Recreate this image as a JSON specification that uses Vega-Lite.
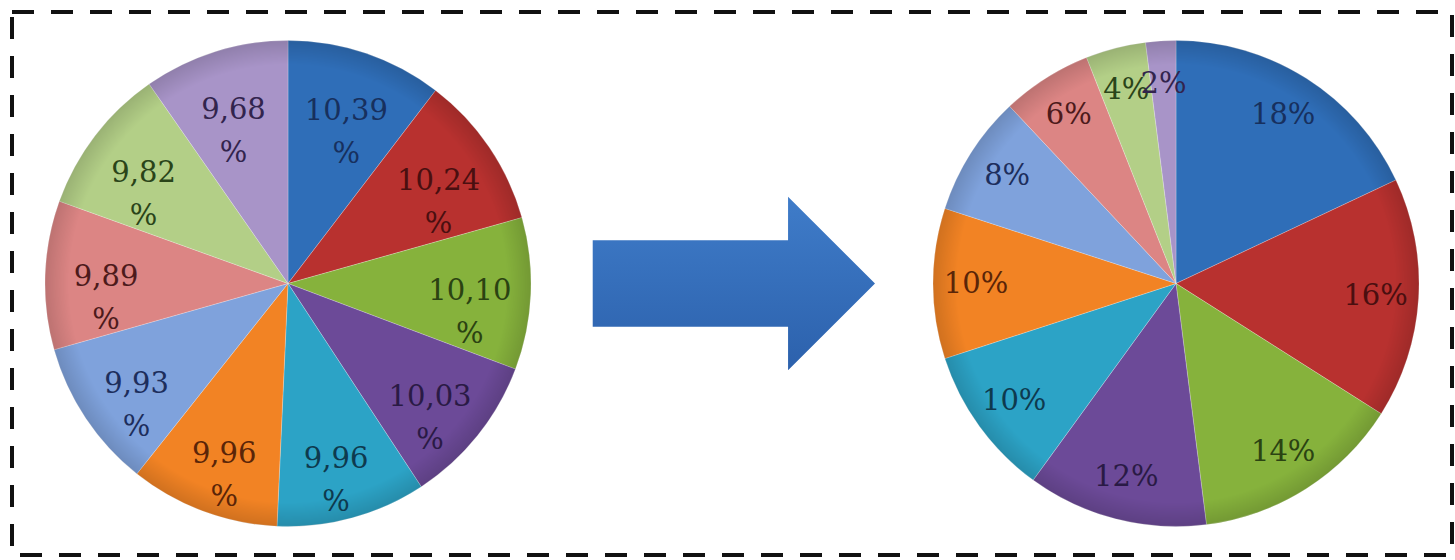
{
  "$schema": "https://vega.github.io/schema/vega-lite/v6.json",
  "width": 1440,
  "height": 543,
  "autosize": {"type": "none"},
  "padding": {"left": 12, "top": 12, "right": 3, "bottom": 5},
  "background": "white",
  "config": {
    "view": {"stroke": "#111111", "strokeWidth": 4, "strokeDash": [22, 17]}
  },
  "datasets": {
    "shares": [
      {"stage": "before", "slice": 1, "pct": 10.39, "label": "10,39\n%"},
      {"stage": "before", "slice": 2, "pct": 10.24, "label": "10,24\n%"},
      {"stage": "before", "slice": 3, "pct": 10.10, "label": "10,10\n%"},
      {"stage": "before", "slice": 4, "pct": 10.03, "label": "10,03\n%"},
      {"stage": "before", "slice": 5, "pct": 9.96, "label": "9,96\n%"},
      {"stage": "before", "slice": 6, "pct": 9.96, "label": "9,96\n%"},
      {"stage": "before", "slice": 7, "pct": 9.93, "label": "9,93\n%"},
      {"stage": "before", "slice": 8, "pct": 9.89, "label": "9,89\n%"},
      {"stage": "before", "slice": 9, "pct": 9.82, "label": "9,82\n%"},
      {"stage": "before", "slice": 10, "pct": 9.68, "label": "9,68\n%"},
      {"stage": "after", "slice": 1, "pct": 18, "label": "18%"},
      {"stage": "after", "slice": 2, "pct": 16, "label": "16%"},
      {"stage": "after", "slice": 3, "pct": 14, "label": "14%"},
      {"stage": "after", "slice": 4, "pct": 12, "label": "12%"},
      {"stage": "after", "slice": 5, "pct": 10, "label": "10%"},
      {"stage": "after", "slice": 6, "pct": 10, "label": "10%"},
      {"stage": "after", "slice": 7, "pct": 8, "label": "8%"},
      {"stage": "after", "slice": 8, "pct": 6, "label": "6%"},
      {"stage": "after", "slice": 9, "pct": 4, "label": "4%"},
      {"stage": "after", "slice": 10, "pct": 2, "label": "2%"}
    ]
  },
  "encoding": {
    "x": {
      "field": "stage",
      "type": "nominal",
      "axis": null,
      "scale": {"type": "point", "domain": ["before", "shift", "after"], "padding": 0.6216}
    }
  },
  "layer": [
    {
      "data": {"name": "shares"},
      "transform": [{"filter": "datum.stage === 'before'"}],
      "mark": {"type": "arc", "outerRadius": 243, "stroke": "#ffffff", "strokeWidth": 0.4, "strokeOpacity": 0.6},
      "encoding": {
        "theta": {"field": "pct", "type": "quantitative", "stack": true},
        "order": {"field": "slice", "type": "quantitative"},
        "fill": {
          "field": "slice",
          "type": "nominal",
          "legend": null,
          "scale": {
            "domain": [1, 2, 3, 4, 5, 6, 7, 8, 9, 10],
            "range": ["#2F6EB8", "#B8312F", "#86B23C", "#6C4A98", "#2CA3C6", "#F28324", "#7FA2DC", "#DC8584", "#B3CF87", "#A894C8"]
          }
        }
      }
    },
    {
      "data": {"name": "shares"},
      "transform": [{"filter": "datum.stage === 'after'"}],
      "mark": {"type": "arc", "outerRadius": 243, "stroke": "#ffffff", "strokeWidth": 0.4, "strokeOpacity": 0.6},
      "encoding": {
        "theta": {"field": "pct", "type": "quantitative", "stack": true},
        "order": {"field": "slice", "type": "quantitative"},
        "fill": {
          "field": "slice",
          "type": "nominal",
          "legend": null,
          "scale": {
            "domain": [1, 2, 3, 4, 5, 6, 7, 8, 9, 10],
            "range": ["#2F6EB8", "#B8312F", "#86B23C", "#6C4A98", "#2CA3C6", "#F28324", "#7FA2DC", "#DC8584", "#B3CF87", "#A894C8"]
          }
        }
      }
    },
    {
      "data": {"values": [{"stage": "before"}, {"stage": "after"}]},
      "mark": {
        "type": "point",
        "shape": "circle",
        "filled": true,
        "opacity": 1,
        "size": 236196,
        "strokeWidth": 0,
        "fill": {
          "gradient": "radial", "x1": 0.5, "y1": 0.5, "r1": 0, "x2": 0.5, "y2": 0.5, "r2": 0.5,
          "stops": [
            {"offset": 0, "color": "rgba(0,0,0,0)"},
            {"offset": 0.9, "color": "rgba(0,0,0,0)"},
            {"offset": 1, "color": "rgba(0,0,0,0.14)"}
          ]
        }
      }
    },
    {
      "data": {"values": [{"stage": "shift"}]},
      "mark": {
        "type": "point",
        "filled": true,
        "opacity": 1,
        "size": 81796,
        "shape": "M-0.974,-0.303 L0.392,-0.303 L0.392,-0.606 L1,0 L0.392,0.606 L0.392,0.303 L-0.974,0.303 Z",
        "fill": {
          "gradient": "linear", "x1": 0, "y1": 0, "x2": 0, "y2": 1,
          "stops": [{"offset": 0, "color": "#3F7CC9"}, {"offset": 1, "color": "#2C61AC"}]
        },
        "strokeWidth": 0
      }
    },
    {
      "data": {"name": "shares"},
      "transform": [{"filter": "datum.stage === 'before'"}],
      "mark": {"type": "text", "radius": 182, "font": "DejaVu Serif", "fontSize": 29, "lineBreak": "\n", "lineHeight": 43, "align": "center", "baseline": "middle"},
      "encoding": {
        "theta": {"field": "pct", "type": "quantitative", "stack": true},
        "order": {"field": "slice", "type": "quantitative"},
        "text": {"field": "label", "type": "nominal"},
        "color": {
          "field": "slice",
          "type": "nominal",
          "legend": null,
          "scale": {
            "domain": [1, 2, 3, 4, 5, 6, 7, 8, 9, 10],
            "range": ["#17305E", "#4A0F10", "#2B4312", "#2A1A45", "#0E3A4E", "#5A2508", "#1D2E5C", "#4D1A1B", "#2A4419", "#32244D"]
          }
        }
      }
    },
    {
      "data": {"name": "shares"},
      "transform": [{"filter": "datum.stage === 'after'"}],
      "mark": {"type": "text", "radius": 200, "font": "DejaVu Serif", "fontSize": 29, "align": "center", "baseline": "middle"},
      "encoding": {
        "theta": {"field": "pct", "type": "quantitative", "stack": true},
        "order": {"field": "slice", "type": "quantitative"},
        "text": {"field": "label", "type": "nominal"},
        "color": {
          "field": "slice",
          "type": "nominal",
          "legend": null,
          "scale": {
            "domain": [1, 2, 3, 4, 5, 6, 7, 8, 9, 10],
            "range": ["#17305E", "#4A0F10", "#2B4312", "#2A1A45", "#0E3A4E", "#5A2508", "#1D2E5C", "#4D1A1B", "#2A4419", "#32244D"]
          }
        }
      }
    }
  ],
  "resolve": {"scale": {"theta": "independent"}}
}
